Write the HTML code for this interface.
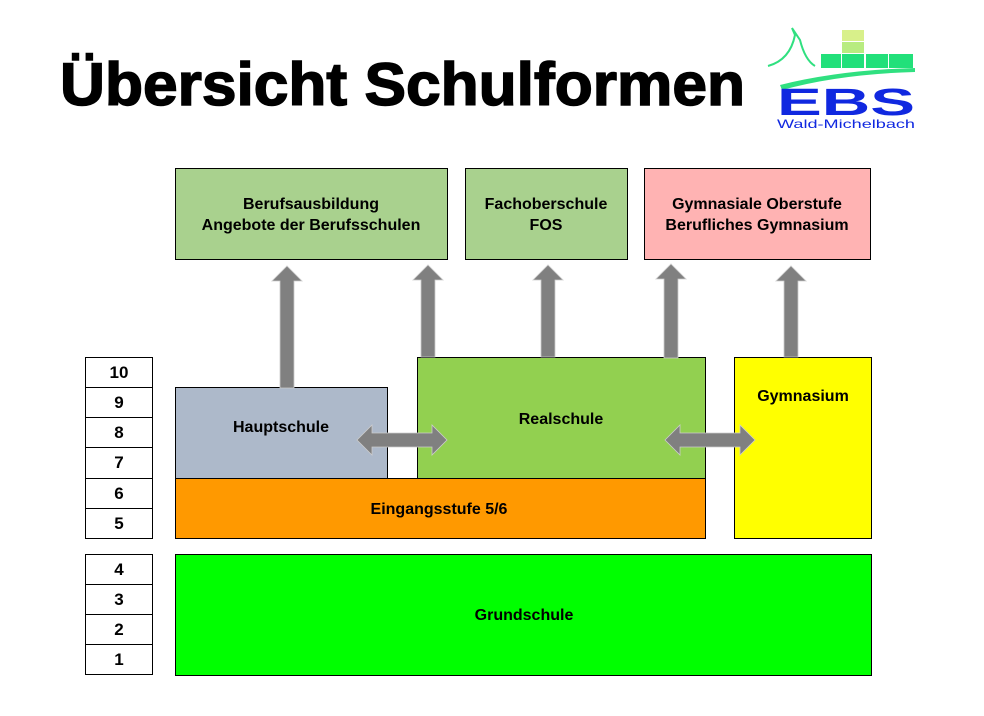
<!DOCTYPE html>
<html><head><meta charset="utf-8"><style>
body{margin:0;background:#fff}
svg{display:block}
text{font-family:"Liberation Sans","DejaVu Sans",sans-serif;font-weight:bold}
</style></head><body>
<svg width="984" height="716" viewBox="0 0 984 716" xmlns="http://www.w3.org/2000/svg">
<text x="60" y="105" font-size="60" fill="#000" stroke="#000" stroke-width="1.5" textLength="685" lengthAdjust="spacingAndGlyphs">Übersicht Schulformen</text>
<!-- logo -->
<g>
<rect x="842" y="30" width="22" height="11" fill="#d8f08a"/>
<rect x="842" y="42" width="22" height="11" fill="#b8ec80"/>
<rect x="821" y="54" width="20" height="14" fill="#22e07a"/>
<rect x="842" y="54" width="22" height="14" fill="#22e07a"/>
<rect x="866" y="54" width="22" height="14" fill="#22e07a"/>
<rect x="889" y="54" width="24" height="14" fill="#22e07a"/>
<path d="M768 66 Q790 60 795 35 L792 28 L800 40 Q805 60 815 66" fill="none" stroke="#30e080" stroke-width="2"/>
<path d="M780 85 Q840 70 915 68 L915 72 Q840 74 782 90 Z" fill="#30e080"/>
<text x="777" y="115" font-size="38" fill="#1028e0" textLength="138" lengthAdjust="spacingAndGlyphs">EBS</text>
<text x="777" y="128" font-size="12" fill="#1028e0" style="font-weight:normal" textLength="138" lengthAdjust="spacingAndGlyphs">Wald-Michelbach</text>
</g>
<g stroke="#000" stroke-width="1">
<rect x="175.5" y="168.5" width="272" height="91" fill="#a9d18e"/>
<rect x="465.5" y="168.5" width="162" height="91" fill="#a9d18e"/>
<rect x="644.5" y="168.5" width="226" height="91" fill="#ffb3b3"/>
<rect x="175.5" y="387.5" width="212" height="91" fill="#adb9ca"/>
<rect x="417.5" y="357.5" width="288" height="121" fill="#92d050"/>
<rect x="734.5" y="357.5" width="137" height="181" fill="#ffff00"/>
<rect x="175.5" y="478.5" width="530" height="60" fill="#ff9900"/>
<rect x="175.5" y="554.5" width="696" height="121" fill="#00ff00"/>
<g fill="#fff">
<rect x="85.5" y="357.5" width="67" height="30"/><rect x="85.5" y="387.5" width="67" height="30"/>
<rect x="85.5" y="417.5" width="67" height="30"/><rect x="85.5" y="447.5" width="67" height="31"/>
<rect x="85.5" y="478.5" width="67" height="30"/><rect x="85.5" y="508.5" width="67" height="30"/>
<rect x="85.5" y="554.5" width="67" height="30"/><rect x="85.5" y="584.5" width="67" height="30"/>
<rect x="85.5" y="614.5" width="67" height="30"/><rect x="85.5" y="644.5" width="67" height="30"/>
</g>
</g>
<g fill="#808080" stroke="#ccc" stroke-width="0.8">
<path d="M280 388 V281 H272 L287 266 L302 281 H294 V388 Z"/>
<path d="M421 357 V280 H413 L428 265 L443 280 H435 V357 Z"/>
<path d="M541 357 V280 H533 L548 265 L563 280 H555 V357 Z"/>
<path d="M664 358 V279 H656 L671 264 L686 279 H678 V358 Z"/>
<path d="M784 357 V281 H776 L791 266 L806 281 H798 V357 Z"/>
<path d="M357 440 L372 425 V433 H432 V425 L447 440 L432 455 V447 H372 V455 Z"/>
<path d="M665 440 L680 425 V433 H740 V425 L755 440 L740 455 V447 H680 V455 Z"/>
</g>
<g font-size="16" fill="#000" text-anchor="middle">
<text x="311" y="209">Berufsausbildung</text>
<text x="311" y="230">Angebote der Berufsschulen</text>
<text x="546" y="209">Fachoberschule</text>
<text x="546" y="230">FOS</text>
<text x="757" y="209">Gymnasiale Oberstufe</text>
<text x="757" y="230">Berufliches Gymnasium</text>
<text x="281" y="432">Hauptschule</text>
<text x="561" y="424">Realschule</text>
<text x="803" y="401">Gymnasium</text>
<text x="439" y="514">Eingangsstufe 5/6</text>
<text x="524" y="620">Grundschule</text>
<g font-size="17">
<text x="119" y="378">10</text><text x="119" y="408">9</text><text x="119" y="438">8</text>
<text x="119" y="468">7</text><text x="119" y="499">6</text><text x="119" y="529">5</text>
<text x="119" y="575">4</text><text x="119" y="605">3</text><text x="119" y="635">2</text><text x="119" y="665">1</text>
</g>
</g>
</svg>
</body></html>
